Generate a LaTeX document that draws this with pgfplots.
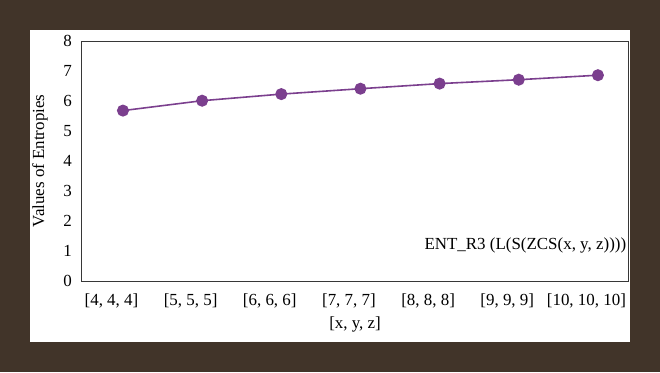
\documentclass[border=0pt]{standalone}
\usepackage{pgfplots}
\pgfplotsset{compat=1.18}
\usepackage{fontspec}
\setmainfont{Liberation Serif}
\definecolor{bgbrown}{RGB}{65,52,41}
\definecolor{lineviolet}{RGB}{123,63,142}
\definecolor{axgray}{RGB}{55,55,55}
\begin{document}
\begin{tikzpicture}[x=1bp,y=1bp]
\fill[bgbrown] (0,0) rectangle (660,372);
\fill[white] (30,30) rectangle (630,342);
\begin{axis}[
  at={(81bp,91bp)}, anchor=south west,
  scale only axis, width=547bp, height=240bp,
  xmin=-0.53, xmax=6.38, ymin=0, ymax=8,
  xtick={0,1,2,3,4,5,6},
  xticklabels={{[4, 4, 4]},{[5, 5, 5]},{[6, 6, 6]},{[7, 7, 7]},{[8, 8, 8]},{[9, 9, 9]},{[10, 10, 10]}},
  ytick={0,1,2,3,4,5,6,7,8},
  major tick length=0pt,
  axis line style={axgray, line width=1bp},
  tick label style={font=\fontsize{17}{20}\selectfont, text=black},
  /pgf/number format/assume math mode=true,
  xticklabel style={anchor=center, inner sep=0pt, xshift=-11.5bp, yshift=-20bp},
  yticklabel style={anchor=east, inner sep=0pt, xshift=-9bp},
  label style={font=\fontsize{17}{20}\selectfont},
  xlabel={[x, y, z]},
  ylabel={Values of Entropies},
  xlabel style={at={(axis description cs:0.501,-0.183)}, anchor=center},
  ylabel style={at={(axis description cs:-0.075,0.5)}, anchor=center},
  clip=false,
]
\addplot[lineviolet, line width=1.6bp, mark=*, mark size=5.2bp,
  mark options={fill=lineviolet, draw=lineviolet}] coordinates {
  (0,5.68) (1,6.01) (2,6.23) (3,6.41) (4,6.58) (5,6.71) (6,6.86)
};
\node[anchor=east, inner sep=0pt, font=\fontsize{17}{20}\selectfont] at (rel axis cs:0.997,0.15) {ENT\_R3 (L(S(ZCS(x, y, z))))};
\end{axis}
\end{tikzpicture}
\end{document}
